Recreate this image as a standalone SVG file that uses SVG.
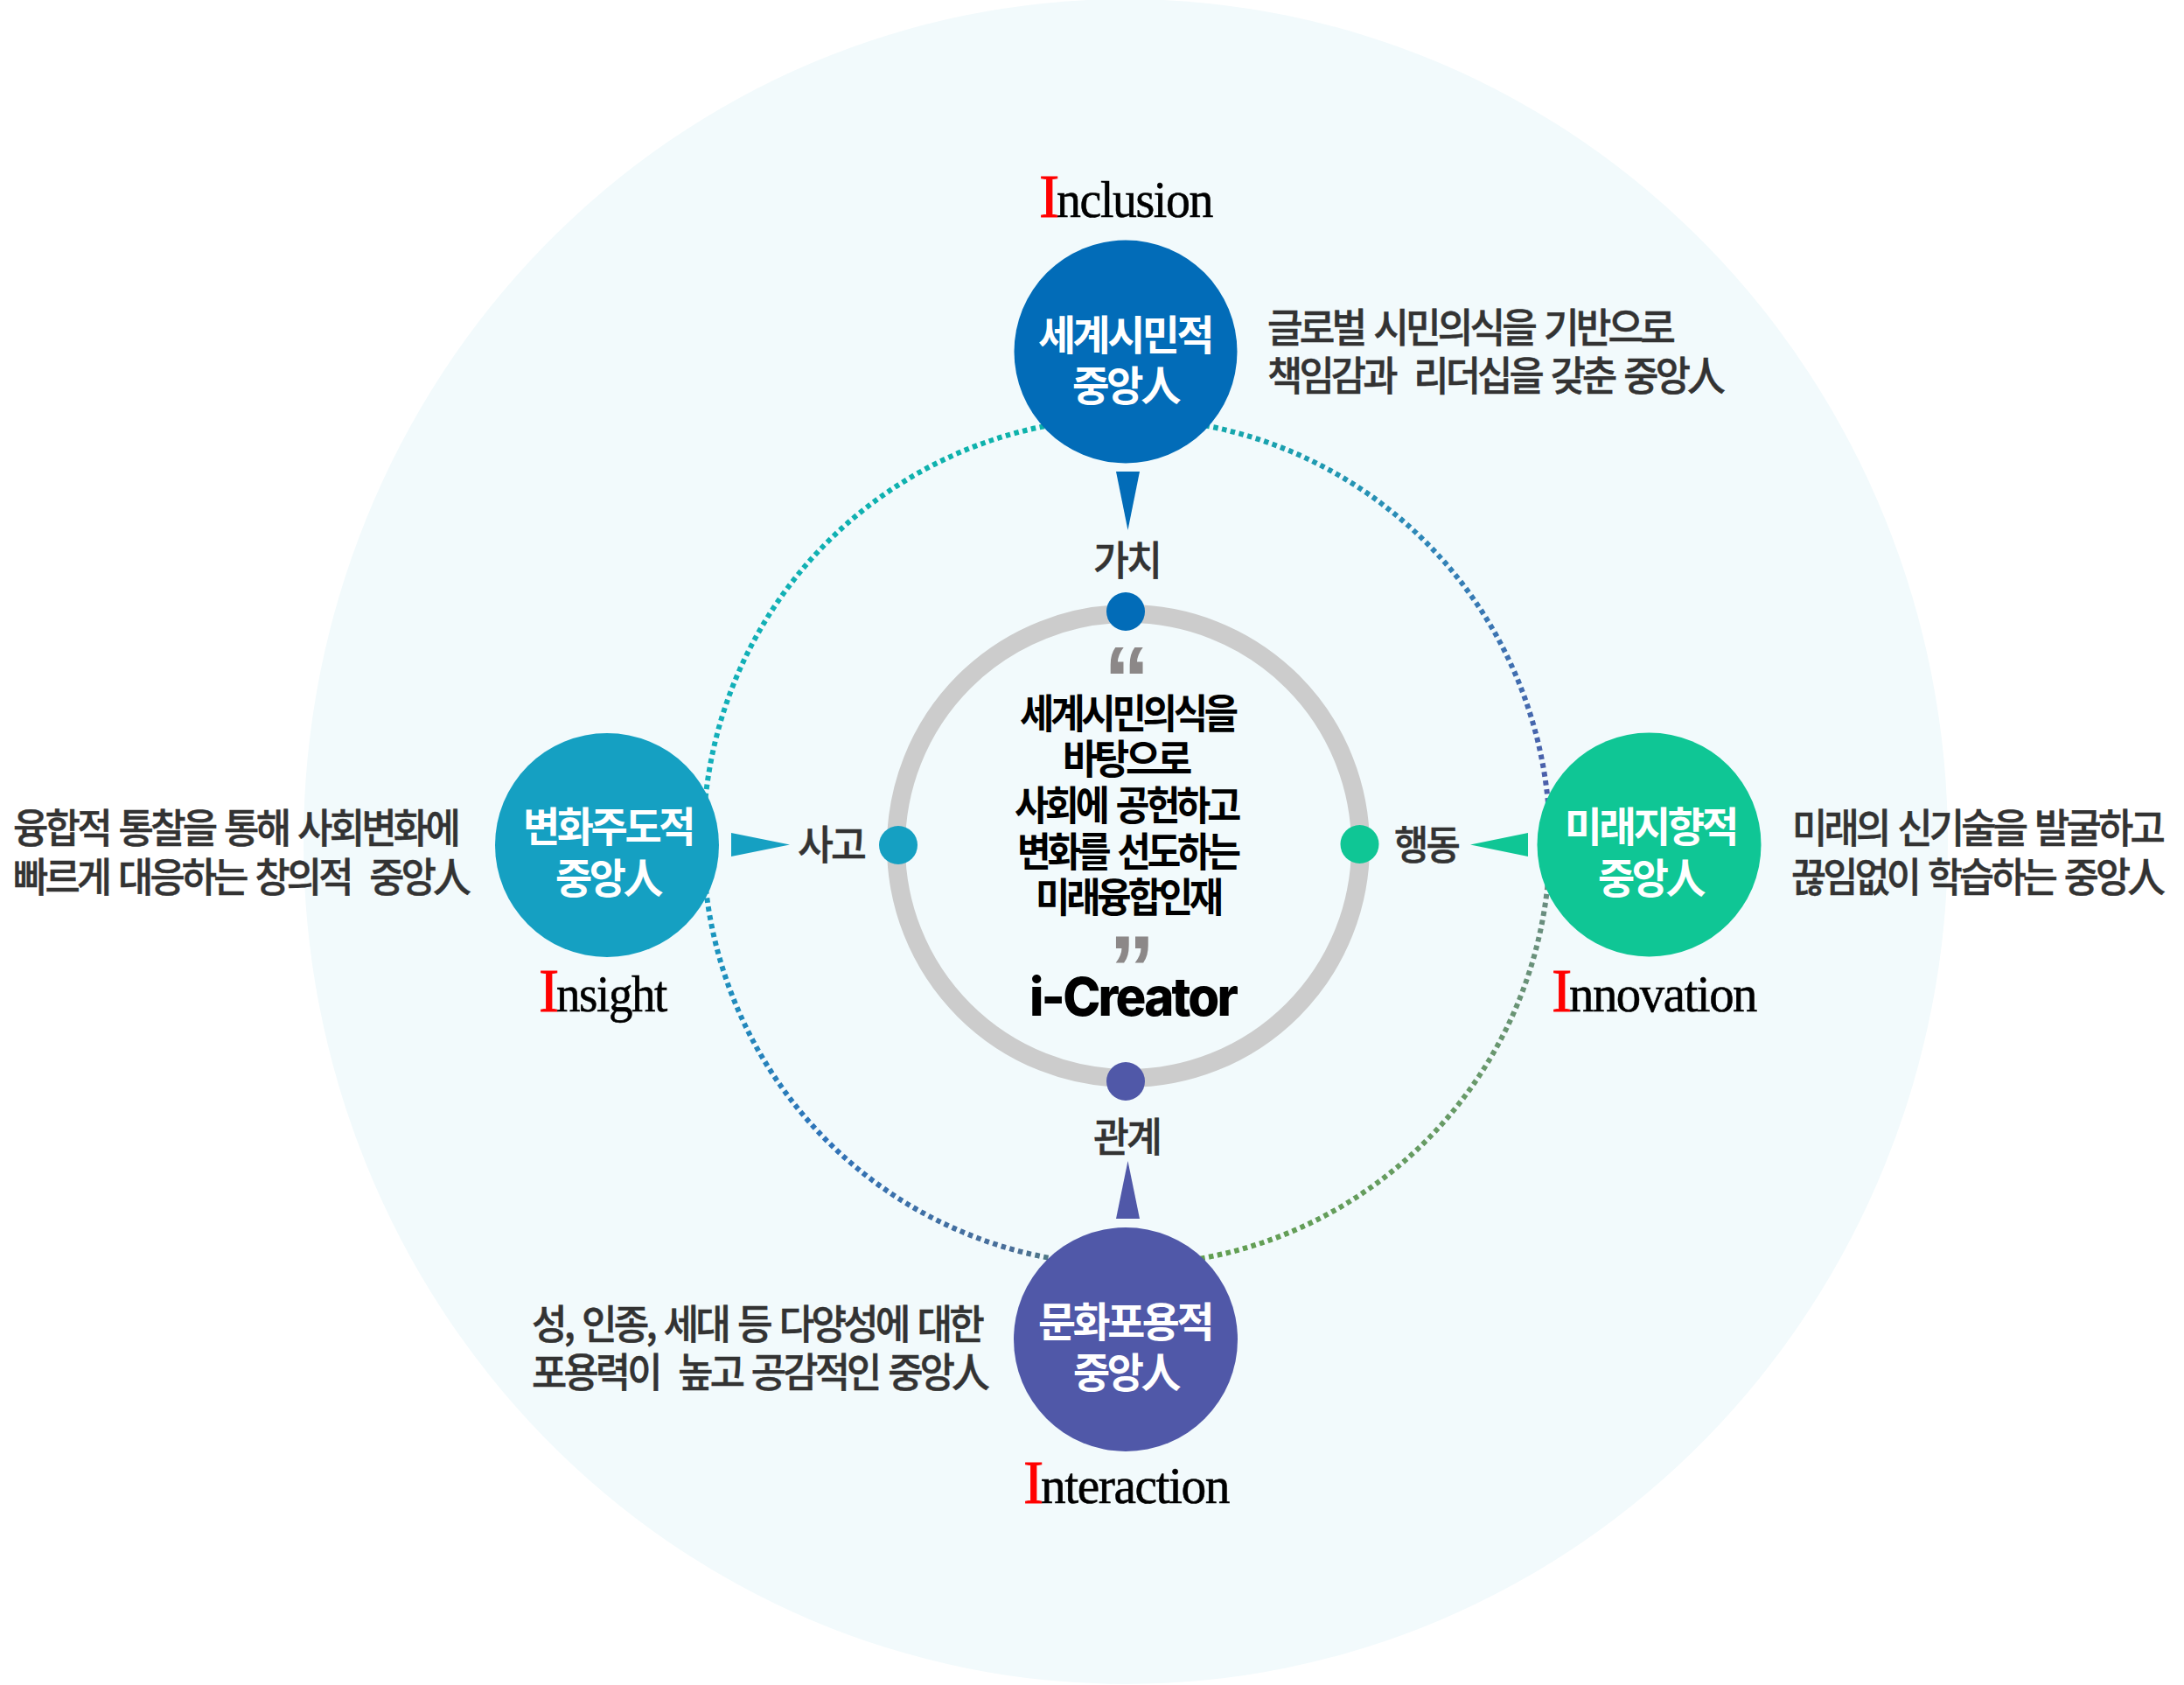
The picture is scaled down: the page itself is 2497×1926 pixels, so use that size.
<svg xmlns="http://www.w3.org/2000/svg" width="2497" height="1926" viewBox="0 0 2497 1926">
<style>
text{font-family:"Noto Sans CJK KR","Noto Sans",sans-serif;white-space:pre}
.n{font-size:47px;font-weight:700;fill:#fff;letter-spacing:-3.500px}
.d{font-size:46px;font-weight:500;fill:#333;letter-spacing:-4px;word-spacing:5px;stroke:#333;stroke-width:.5}
.s{font-size:46px;font-weight:500;fill:#333;stroke:#333;stroke-width:.5;letter-spacing:-3px}
.c{font-size:46px;font-weight:700;fill:#000;letter-spacing:-4.500px;word-spacing:6px}
.i{font-family:"Liberation Serif",serif;font-size:70px;fill:#f00;stroke:#f00;stroke-width:.8}
.l{font-family:"Liberation Serif",serif;font-size:60px;fill:#000;stroke:#000;stroke-width:.6;letter-spacing:-1.500px}
.q{font-family:"Liberation Sans",sans-serif;font-weight:700;font-size:105px;fill:#8c8888}
.k{fill:none;stroke-width:6;stroke-dasharray:5.500 4.500}
</style>
<defs>
<linearGradient id="gUL" gradientUnits="userSpaceOnUse" x1="804" y1="962" x2="1288" y2="478"><stop offset="0" stop-color="#14aebc"/><stop offset="1" stop-color="#0cb3a8"/></linearGradient>
<linearGradient id="gUR" gradientUnits="userSpaceOnUse" x1="1288" y1="478" x2="1772" y2="962"><stop offset="0" stop-color="#0cb3a8"/><stop offset=".5" stop-color="#2f86b8"/><stop offset="1" stop-color="#5058a8"/></linearGradient>
<linearGradient id="gLR" gradientUnits="userSpaceOnUse" x1="1772" y1="962" x2="1288" y2="1446"><stop offset="0" stop-color="#6a8a86"/><stop offset=".4" stop-color="#689a68"/><stop offset="1" stop-color="#60a04c"/></linearGradient>
<linearGradient id="gLL" gradientUnits="userSpaceOnUse" x1="804" y1="962" x2="1288" y2="1446"><stop offset="0" stop-color="#14a0c0"/><stop offset=".5" stop-color="#2f72b8"/><stop offset=".85" stop-color="#4a6e98"/><stop offset="1" stop-color="#5a9060"/></linearGradient>
</defs>
<ellipse id="bg" cx="1287" cy="962" rx="940" ry="963" fill="#f2fafc"/>
<g id="connectors">
<path class="k" stroke="url(#gUL)" d="M804 962A484 484 0 0 1 1288 478"/>
<path class="k" stroke="url(#gUR)" d="M1288 478A484 484 0 0 1 1772 962"/>
<path class="k" stroke="url(#gLR)" d="M1772 962A484 484 0 0 1 1288 1446"/>
<path class="k" stroke="url(#gLL)" d="M1288 1446A484 484 0 0 1 804 962"/>
<polygon fill="#026cb8" points="1276,539 1303,539 1289.500,606"/>
<polygon fill="#5058a8" points="1276,1393 1303,1393 1289.500,1327"/>
<polygon fill="#15a0c2" points="836,952 836,979 903,965.500"/>
<polygon fill="#0fc695" points="1747,952 1747,979 1681,965.500"/>
</g>
<g id="hub">
<circle cx="1290" cy="967" r="265.500" fill="none" stroke="#cccccc" stroke-width="21"/>
<circle cx="1287" cy="699" r="22" fill="#026cb8"/>
<circle cx="1287" cy="1236" r="22" fill="#5058a8"/>
<circle cx="1027" cy="966" r="22" fill="#15a0c2"/>
<circle cx="1554.500" cy="965" r="22" fill="#0fc695"/>
<text class="q" x="1262" y="813">“</text>
<text class="q" x="1268" y="1143">”</text>
<text class="c" x="1166" y="832" textLength="246" lengthAdjust="spacingAndGlyphs">세계시민의식을</text>
<text class="c" x="1215" y="884" textLength="144" lengthAdjust="spacingAndGlyphs">바탕으로</text>
<text class="c" x="1160" y="937" textLength="255" lengthAdjust="spacingAndGlyphs">사회에 공헌하고</text>
<text class="c" x="1163" y="990" textLength="252" lengthAdjust="spacingAndGlyphs">변화를 선도하는</text>
<text class="c" x="1184" y="1042" textLength="211" lengthAdjust="spacingAndGlyphs">미래융합인재</text>
<text x="1177" y="1161" textLength="236" lengthAdjust="spacingAndGlyphs" style="font-family:Inter,sans-serif;font-weight:800;font-size:61px;fill:#000;letter-spacing:-3px">i-Creator</text>
</g>
<g id="node-top">
<circle cx="1287" cy="402" r="127.500" fill="#026cb8"/>
<text class="n" x="1187" y="400" textLength="198" lengthAdjust="spacingAndGlyphs">세계시민적</text>
<text class="n" x="1226" y="458" textLength="121" lengthAdjust="spacingAndGlyphs">중앙人</text>
<text class="i" x="1188" y="248">I</text><text class="l" x="1208" y="248" textLength="178" lengthAdjust="spacingAndGlyphs">nclusion</text>
<text class="d" x="1449" y="391" textLength="463" lengthAdjust="spacingAndGlyphs">글로벌 시민의식을 기반으로</text>
<text class="d" x="1449" y="446" textLength="520" lengthAdjust="spacingAndGlyphs">책임감과  리더십을 갖춘 중앙人</text>
<text class="s" x="1250" y="657" textLength="76" lengthAdjust="spacingAndGlyphs">가치</text>
</g>
<g id="node-right">
<circle cx="1885.500" cy="965.500" r="128" fill="#0fc695"/>
<text class="n" x="1789" y="962" textLength="196" lengthAdjust="spacingAndGlyphs">미래지향적</text>
<text class="n" x="1827" y="1021" textLength="120" lengthAdjust="spacingAndGlyphs">중앙人</text>
<text class="i" x="1774" y="1156">I</text><text class="l" x="1794" y="1156" textLength="214" lengthAdjust="spacingAndGlyphs">nnovation</text>
<text class="d" x="2049" y="963" textLength="423" lengthAdjust="spacingAndGlyphs">미래의 신기술을 발굴하고</text>
<text class="d" x="2048" y="1019" textLength="424" lengthAdjust="spacingAndGlyphs">끊임없이 학습하는 중앙人</text>
<text class="s" x="1594" y="982" textLength="73" lengthAdjust="spacingAndGlyphs">행동</text>
</g>
<g id="node-bottom">
<circle cx="1287" cy="1531" r="128" fill="#5058a8"/>
<text class="n" x="1187" y="1528" textLength="198" lengthAdjust="spacingAndGlyphs">문화포용적</text>
<text class="n" x="1227" y="1586" textLength="120" lengthAdjust="spacingAndGlyphs">중앙人</text>
<text class="i" x="1170" y="1718">I</text><text class="l" x="1190" y="1718" textLength="215" lengthAdjust="spacingAndGlyphs">nteraction</text>
<text class="d" x="608" y="1530" textLength="514" lengthAdjust="spacingAndGlyphs">성, 인종, 세대 등 다양성에 대한</text>
<text class="d" x="608" y="1585" textLength="520" lengthAdjust="spacingAndGlyphs">포용력이  높고 공감적인 중앙人</text>
<text class="s" x="1250" y="1316" textLength="76" lengthAdjust="spacingAndGlyphs">관계</text>
</g>
<g id="node-left">
<circle cx="694" cy="966" r="128" fill="#15a0c2"/>
<text class="n" x="598" y="962" textLength="194" lengthAdjust="spacingAndGlyphs">변화주도적</text>
<text class="n" x="635" y="1021" textLength="120" lengthAdjust="spacingAndGlyphs">중앙人</text>
<text class="i" x="616" y="1156">I</text><text class="l" x="636" y="1156" textLength="126" lengthAdjust="spacingAndGlyphs">nsight</text>
<text class="d" x="15" y="963" textLength="508" lengthAdjust="spacingAndGlyphs">융합적 통찰을 통해 사회변화에</text>
<text class="d" x="15" y="1019" textLength="520" lengthAdjust="spacingAndGlyphs">빠르게 대응하는 창의적  중앙人</text>
<text class="s" x="912" y="982" textLength="76" lengthAdjust="spacingAndGlyphs">사고</text>
</g>
</svg>
